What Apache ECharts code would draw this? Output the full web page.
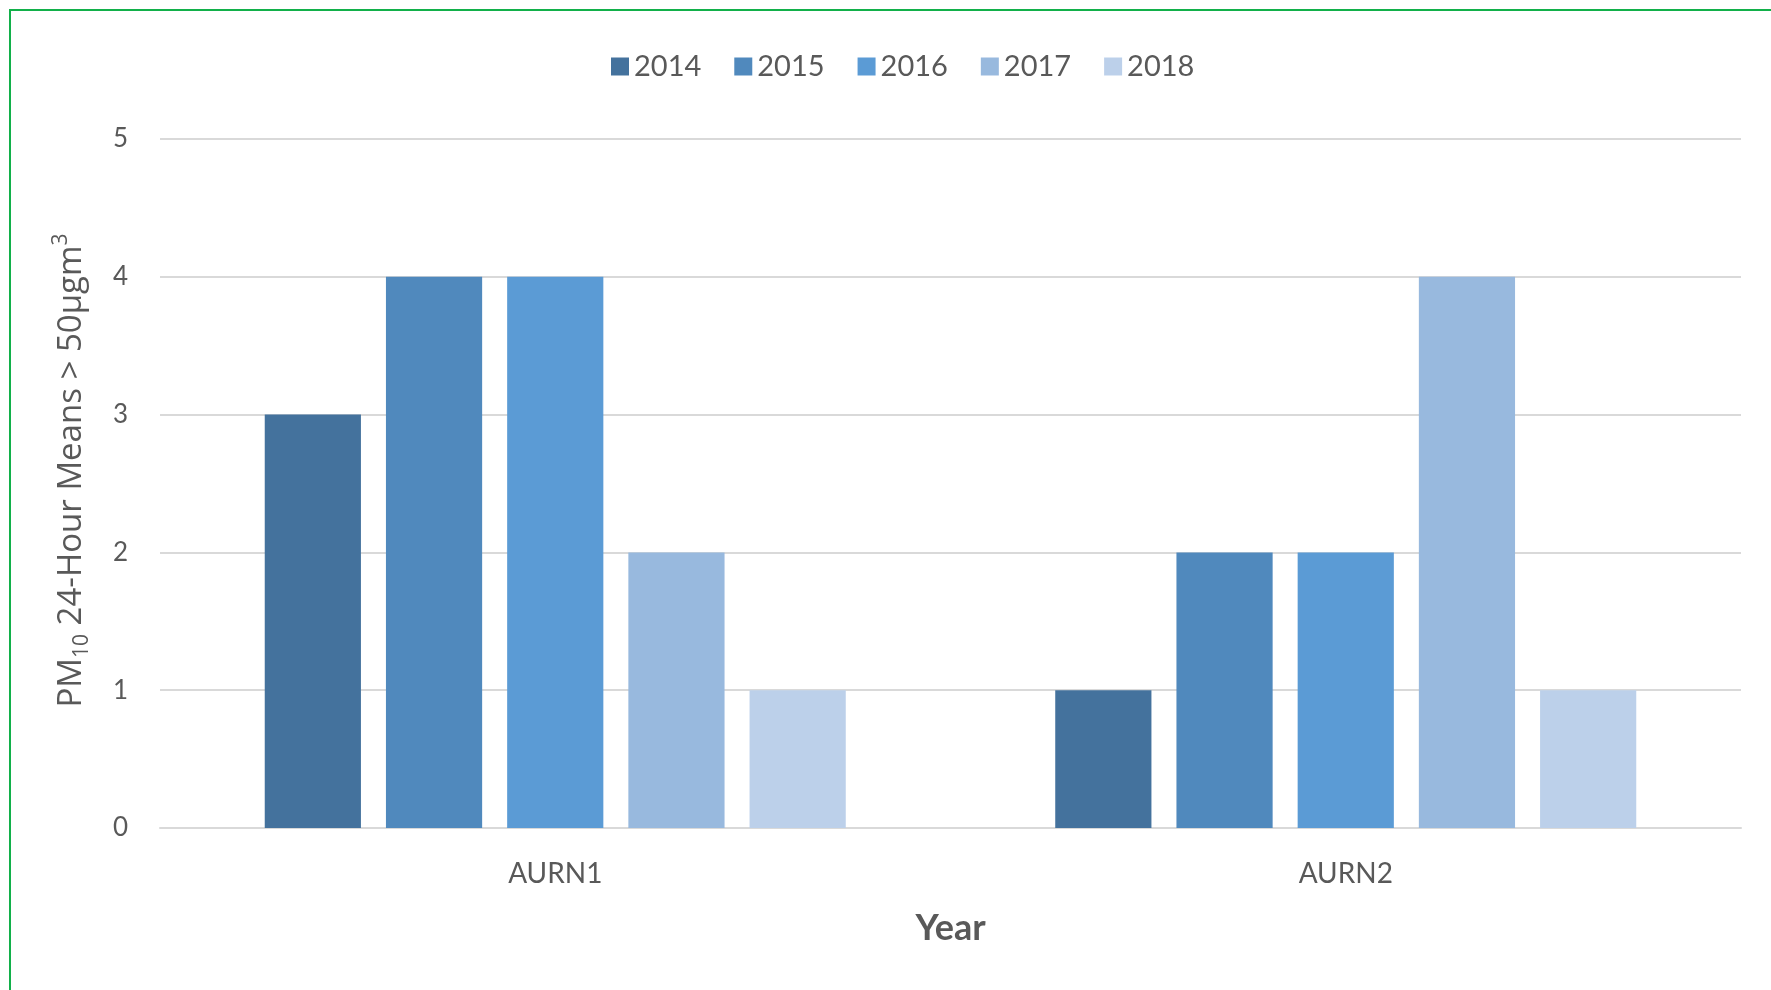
<!DOCTYPE html>
<html>
<head>
<meta charset="utf-8">
<script src="https://cdn.jsdelivr.net/npm/echarts@6/dist/echarts.min.js"></script>
<style>
html,body{margin:0;padding:0;background:#fff;overflow:hidden;}
#chart{width:1771px;height:990px;position:absolute;left:0;top:0;}
#frame{position:absolute;left:9px;top:9px;width:2000px;height:1200px;border-left:2px solid #12b04a;border-top:2px solid #12b04a;pointer-events:none;}
</style>
</head>
<body>
<div id="chart"></div>
<div id="frame"></div>
<script>
const categories = ['AURN1', 'AURN2'];
const years = ['2014', '2015', '2016', '2017', '2018'];
const v2014 = [3, 1];
const v2015 = [4, 2];
const v2016 = [4, 2];
const v2017 = [2, 4];
const v2018 = [1, 1];
const yTicks = [0, 1, 2, 3, 4, 5];
const colors = ['#44729D', '#5089BD', '#5B9BD5', '#98B9DE', '#BCD0EA'];

const values = [v2014, v2015, v2016, v2017, v2018];
const chart = echarts.init(document.getElementById('chart'));
chart.setOption({
  backgroundColor: '#ffffff',
  animation: false,
  legend: {
    data: years,
    left: 606,
    top: 47,
    itemWidth: 18,
    itemHeight: 18,
    itemGap: 33,
    icon: 'rect',
    textStyle: { fontFamily: 'Lato', fontSize: 29, color: '#595959' }
  },
  grid: { left: 160, right: 30, top: 139, bottom: 162, containLabel: false },
  xAxis: {
    type: 'category',
    data: categories,
    name: 'Year',
    nameLocation: 'middle',
    nameGap: 82,
    nameTextStyle: { fontFamily: 'Lato', fontWeight: 'bold', fontSize: 36, color: '#595959' },
    axisLine: { lineStyle: { color: '#D9D9D9', width: 2 } },
    axisTick: { show: false },
    axisLabel: { margin: 32, fontFamily: 'Lato', fontSize: 28, color: '#595959' }
  },
  yAxis: {
    type: 'value',
    min: yTicks[0],
    max: yTicks[yTicks.length - 1],
    interval: 1,
    name: 'PM{sub|10} 24-Hour Means > 50µgm{sup|3}',
    nameLocation: 'middle',
    nameRotate: 90,
    nameGap: 67,
    nameTextStyle: {
      fontFamily: 'Open Sans', fontSize: 33, color: '#595959', lineHeight: 42,
      padding: [0, 0, 0, 26],
      rich: {
        sub: { fontFamily: 'Open Sans', fontSize: 21, color: '#595959', lineHeight: 21, verticalAlign: 'bottom' },
        sup: { fontFamily: 'Open Sans', fontSize: 21, color: '#595959', lineHeight: 21, verticalAlign: 'top' }
      }
    },
    axisLine: { show: false },
    axisTick: { show: false },
    splitLine: { lineStyle: { color: '#D9D9D9', width: 2 } },
    axisLabel: { margin: 32, fontFamily: 'Lato', fontSize: 26, color: '#595959' }
  },
  series: years.map((y, i) => ({
    name: y,
    type: 'bar',
    data: values[i],
    itemStyle: { color: colors[i] },
    barGap: '26%',
    barCategoryGap: '26.5%'
  }))
});
</script>
</body>
</html>
